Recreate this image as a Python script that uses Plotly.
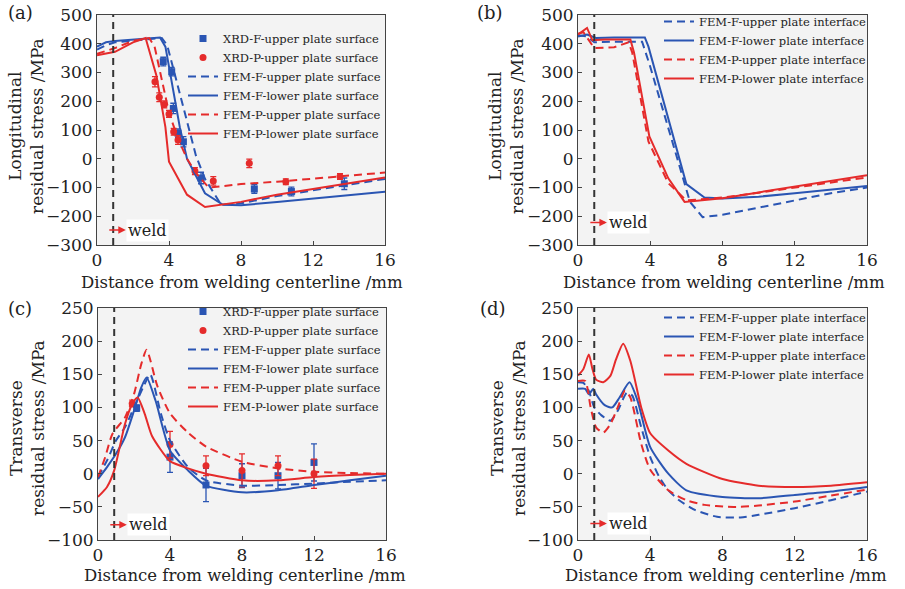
import plotly.graph_objects as go

W, H = 905, 589
BLUE = '#2a55b3'
RED = '#e52b2b'
FONT = 'DejaVu Serif'

# ---------------- Panel (a): longitudinal, surface ----------------
a_xrd_f_x = [3.68, 4.15, 4.24, 4.5, 4.8, 5.78, 8.74, 10.8, 13.74]
a_xrd_f_y = [338, 303, 175, 89, 59, -67, -105, -114, -87]
a_xrd_f_e = [15, 15, 18, 15, 18, 20, 15, 15, 20]
a_xrd_p_x = [3.22, 3.46, 3.74, 4.0, 4.26, 4.5, 5.44, 6.46, 8.46, 10.49, 13.5]
a_xrd_p_y = [268, 214, 189, 156, 94, 65, -43, -77, -16, -80, -62]
a_xrd_p_e = [18, 15, 12, 12, 12, 15, 12, 15, 15, 10, 10]
a_fem_fu_x = [0, 0.5, 1, 2, 3.6, 3.9, 4.5, 5, 5.5, 6, 6.9, 8, 10, 12, 14, 16]
a_fem_fu_y = [380, 395, 405, 410, 420, 395, 250, 130, 10, -70, -160, -155, -130, -110, -90, -70]
a_fem_fl_x = [0, 0.5, 1, 2, 3.5, 3.8, 4.2, 4.6, 5, 5.5, 6, 7, 8, 10, 12, 14, 16]
a_fem_fl_y = [390, 405, 410, 415, 422, 390, 250, 110, 0, -60, -120, -160, -162, -150, -138, -127, -115]
a_fem_pu_x = [0, 1, 2, 2.9, 3.2, 3.5, 4, 4.5, 5, 5.5, 6.2, 7, 8, 10, 12, 14, 16]
a_fem_pu_y = [365, 385, 410, 420, 390, 300, 160, 70, 0, -50, -100, -95, -88, -80, -70, -60, -48]
a_fem_pl_x = [0, 1, 2, 2.7, 3.3, 3.8, 4.0, 5.0, 6.0, 7, 8, 10, 12, 14, 16]
a_fem_pl_y = [360, 372, 405, 420, 290, 110, -10, -125, -168, -160, -150, -125, -105, -85, -65]

# ---------------- Panel (b): longitudinal, interface ----------------
b_fu_x = [0, 0.5, 0.9, 2, 3.55, 4, 5.5, 6.2, 6.9, 8, 10, 12, 14, 16]
b_fu_y = [430, 425, 405, 407, 407, 320, 0, -150, -203, -195, -170, -145, -120, -100]
b_fl_x = [0, 0.5, 1, 2, 3.7, 3.9, 6.0, 7.0, 8, 10, 12, 14, 16]
b_fl_y = [425, 432, 420, 422, 422, 390, -88, -135, -138, -132, -120, -107, -95]
b_pu_x = [0, 0.3, 0.9, 2, 2.8, 3.0, 3.9, 5.0, 6.0, 8, 10, 12, 14, 16]
b_pu_y = [435, 440, 385, 388, 405, 370, 60, -85, -145, -135, -118, -100, -83, -65]
b_pl_x = [0, 0.5, 0.8, 1.5, 2.9, 3.1, 3.95, 5.0, 5.9, 8, 10, 12, 14, 16]
b_pl_y = [432, 455, 412, 415, 415, 370, 78, -68, -150, -137, -117, -97, -77, -57]

# ---------------- Panel (c): transverse, surface ----------------
c_xrd_f_x = [2.15, 4.0, 6.0, 8.0, 10.0, 12.0]
c_xrd_f_y = [99, 25, -17, -3, -3, 17]
c_xrd_f_e = [5, 23, 25, 18, 20, 28]
c_xrd_p_x = [1.9, 4.0, 6.0, 8.0, 10.0, 12.0]
c_xrd_p_y = [106, 44, 12, 5, 12, 0]
c_xrd_p_e = [5, 20, 15, 25, 15, 22]
c_fu_x = [0, 0.5, 1, 1.5, 2, 2.5, 2.9, 3.5, 4, 5, 6, 8, 10, 12, 14, 16]
c_fu_y = [-5, 20, 50, 70, 100, 130, 150, 90, 50, 10, -10, -18, -17, -15, -12, -10]
c_fl_x = [0, 0.5, 1, 1.5, 2, 2.4, 2.7, 3.2, 4, 5, 6, 8, 10, 12, 14, 16]
c_fl_y = [-8, 10, 30, 55, 95, 130, 145, 110, 35, 5, -18, -28, -25, -17, -10, -3]
c_pu_x = [0, 0.4, 0.8, 1.5, 2.0, 2.4, 2.7, 3.3, 4, 5, 6, 8, 10, 12, 14, 16]
c_pu_y = [-5, 25, 60, 85, 120, 165, 187, 132, 91, 62, 41, 18, 8, 3, 1, 0]
c_pl_x = [0, 0.5, 0.9, 1.5, 1.9, 2.2, 2.6, 3.0, 4, 5, 6, 8, 10, 12, 14, 16]
c_pl_y = [-35, -20, 5, 75, 105, 115, 90, 57, 19, 8, 0, -10, -10, -5, -2, 0]

# ---------------- Panel (d): transverse, interface ----------------
d_fu_x = [0, 0.3, 0.6, 0.9, 1.3, 1.8, 2.2, 2.7, 3.0, 3.5, 4, 4.5, 5, 5.6, 6.5, 7.7, 9, 10, 12, 14, 16]
d_fu_y = [138, 137, 125, 100, 88, 80, 95, 122, 118, 70, 25, -5, -25, -40, -55, -65, -66, -62, -52, -40, -27]
d_fl_x = [0, 0.4, 0.6, 0.85, 1.0, 1.5, 1.9, 2.3, 2.85, 3.3, 4, 5, 6, 8, 10, 12, 14, 16]
d_fl_y = [128, 128, 120, 128, 120, 103, 100, 115, 138, 110, 40, 0, -25, -35, -37, -32, -27, -20]
d_pu_x = [0, 0.4, 0.7, 1.0, 1.4, 1.8, 2.2, 2.6, 2.9, 3.5, 4, 5, 6, 7, 8.3, 9, 10, 12, 14, 16]
d_pu_y = [140, 140, 100, 70, 62, 75, 100, 125, 115, 45, 6, -25, -40, -47, -50, -50, -48, -42, -33, -24]
d_pl_x = [0, 0.3, 0.6, 0.8, 1.0, 1.4, 1.8, 2.1, 2.5, 2.9, 3.5, 4, 5, 6, 8, 10, 12, 14, 16]
d_pl_y = [148, 158, 180, 158, 142, 138, 148, 172, 196, 170, 100, 61, 35, 15, -8, -18, -20, -18, -13]

WELD_X = 0.9

def px(x):
    return x / W

def py(y):
    return 1 - y / H

fig = go.Figure()

DASH = '8px,5px'

def line(x, y, color, dash, name, xa, ya, leg, shape='linear'):
    fig.add_trace(go.Scatter(x=x, y=y, mode='lines', name=name,
                             line=dict(color=color, width=2, dash=dash, shape=shape, smoothing=0.6),
                             xaxis=xa, yaxis=ya, legend=leg))

def xrd(x, y, e, color, symbol, name, xa, ya, leg):
    fig.add_trace(go.Scatter(x=x, y=y, mode='markers', name=name,
                             marker=dict(color=color, symbol=symbol, size=7),
                             error_y=dict(type='data', array=e, color=color, thickness=1.3, width=3),
                             xaxis=xa, yaxis=ya, legend=leg))

# (a)
xrd(a_xrd_f_x, a_xrd_f_y, a_xrd_f_e, BLUE, 'square', 'XRD-F-upper plate surface', 'x', 'y', 'legend')
xrd(a_xrd_p_x, a_xrd_p_y, a_xrd_p_e, RED, 'circle', 'XRD-P-upper plate surface', 'x', 'y', 'legend')
line(a_fem_fu_x, a_fem_fu_y, BLUE, DASH, 'FEM-F-upper plate surface', 'x', 'y', 'legend')
line(a_fem_fl_x, a_fem_fl_y, BLUE, 'solid', 'FEM-F-lower plate surface', 'x', 'y', 'legend')
line(a_fem_pu_x, a_fem_pu_y, RED, DASH, 'FEM-P-upper plate surface', 'x', 'y', 'legend')
line(a_fem_pl_x, a_fem_pl_y, RED, 'solid', 'FEM-P-lower plate surface', 'x', 'y', 'legend')
# (b)
line(b_fu_x, b_fu_y, BLUE, DASH, 'FEM-F-upper plate interface', 'x2', 'y2', 'legend2')
line(b_fl_x, b_fl_y, BLUE, 'solid', 'FEM-F-lower plate interface', 'x2', 'y2', 'legend2')
line(b_pu_x, b_pu_y, RED, DASH, 'FEM-P-upper plate interface', 'x2', 'y2', 'legend2')
line(b_pl_x, b_pl_y, RED, 'solid', 'FEM-P-lower plate interface', 'x2', 'y2', 'legend2')
# (c)
xrd(c_xrd_f_x, c_xrd_f_y, c_xrd_f_e, BLUE, 'square', 'XRD-F-upper plate surface', 'x3', 'y3', 'legend3')
xrd(c_xrd_p_x, c_xrd_p_y, c_xrd_p_e, RED, 'circle', 'XRD-P-upper plate surface', 'x3', 'y3', 'legend3')
line(c_fu_x, c_fu_y, BLUE, DASH, 'FEM-F-upper plate surface', 'x3', 'y3', 'legend3', 'spline')
line(c_fl_x, c_fl_y, BLUE, 'solid', 'FEM-F-lower plate surface', 'x3', 'y3', 'legend3', 'spline')
line(c_pu_x, c_pu_y, RED, DASH, 'FEM-P-upper plate surface', 'x3', 'y3', 'legend3', 'spline')
line(c_pl_x, c_pl_y, RED, 'solid', 'FEM-P-lower plate surface', 'x3', 'y3', 'legend3', 'spline')
# (d)
line(d_fu_x, d_fu_y, BLUE, DASH, 'FEM-F-upper plate interface', 'x4', 'y4', 'legend4', 'spline')
line(d_fl_x, d_fl_y, BLUE, 'solid', 'FEM-F-lower plate interface', 'x4', 'y4', 'legend4', 'spline')
line(d_pu_x, d_pu_y, RED, DASH, 'FEM-P-upper plate interface', 'x4', 'y4', 'legend4', 'spline')
line(d_pl_x, d_pl_y, RED, 'solid', 'FEM-P-lower plate interface', 'x4', 'y4', 'legend4', 'spline')

panels = {
    '':  dict(xd=(97, 385), yd=(15, 245), yr=(-300, 500), dt=100),
    '2': dict(xd=(578, 867), yd=(15, 245), yr=(-300, 500), dt=100),
    '3': dict(xd=(98, 386), yd=(308, 540), yr=(-100, 250), dt=50),
    '4': dict(xd=(578, 867), yd=(308, 540), yr=(-100, 250), dt=50),
}

axis_common = dict(showgrid=False, zeroline=False, showline=True, mirror=True,
                   linecolor='#444', linewidth=1, ticks='inside', ticklen=4,
                   tickcolor='#444', ticklabeloverflow='allow',
                   tickfont=dict(family=FONT, size=17, color='#222'))
layout = {}
for k, p in panels.items():
    layout['xaxis' + k] = dict(axis_common, domain=[px(p['xd'][0]), px(p['xd'][1])],
                               range=[0, 16], dtick=4, tick0=0,
                               anchor='y' + k)
    layout['yaxis' + k] = dict(axis_common, domain=[py(p['yd'][1]), py(p['yd'][0])],
                               range=list(p['yr']), dtick=p['dt'], tick0=0,
                               anchor='x' + k)
fig.update_layout(**layout)

def legend_at(left_px, top_px):
    return dict(x=px(left_px), y=py(top_px), xanchor='left', yanchor='top',
                bgcolor='rgba(0,0,0,0)', font=dict(family=FONT, size=11.5, color='#222'),
                tracegroupgap=0, itemwidth=30)

fig.update_layout(
    width=W, height=H, margin=dict(l=0, r=0, t=0, b=0, autoexpand=False),
    paper_bgcolor='white', plot_bgcolor='#f3f3f3', showlegend=True,
    legend=legend_at(183, 24),
    legend2=legend_at(659, 7),
    legend3=legend_at(183, 297),
    legend4=legend_at(659, 303),
)

ann = []
def note(text, x, y, size, angle=0):
    ann.append(dict(text=text, x=px(x), y=py(y), xref='paper', yref='paper', showarrow=False,
                    xanchor='center', yanchor='middle', textangle=angle,
                    font=dict(family=FONT, size=size, color='#222')))

# panel labels
for t, x, y in [('(a)', 20, 13), ('(b)', 490, 13), ('(c)', 20, 308), ('(d)', 493, 308)]:
    note(t, x, y, 18)
# x titles
for x, y in [(242, 282), (724, 282), (245, 575), (726, 575)]:
    note('Distance from welding centerline /mm', x, y, 16.5)
# y titles
for t, x, y in [('Longitudinal<br>residual stress /MPa', 26, 126), ('Longitudinal<br>residual stress /MPa', 506, 126),
                ('Transverse<br>residual stress /MPa', 27, 428), ('Transverse<br>residual stress /MPa', 508, 428)]:
    note(t, x, y, 17, -90)
# weld arrows
for k, yv in [('', -248), ('2', -222), ('3', -77), ('4', -75)]:
    xr = 'x' + k if k else 'x'
    yr = 'y' + k if k else 'y'
    ann.append(dict(x=1.6, y=yv, ax=0.6, ay=yv, xref=xr, yref=yr, axref=xr, ayref=yr, text='',
                    showarrow=True, arrowhead=2, arrowsize=1, arrowwidth=1.5, arrowcolor=RED))
    ann.append(dict(x=1.62, y=yv, xref=xr, yref=yr, text='weld', showarrow=False, xanchor='left',
                    yanchor='middle', bgcolor='white', borderpad=1,
                    font=dict(family=FONT, size=16, color='#222')))
fig.update_layout(annotations=ann)

# weld centre dashed lines
shapes = []
for k in ['', '2', '3', '4']:
    xr = 'x' + k if k else 'x'
    yr = ('y' + k if k else 'y') + ' domain'
    shapes.append(dict(type='line', x0=WELD_X, x1=WELD_X, y0=0, y1=1, xref=xr, yref=yr,
                       line=dict(color='#333', width=2, dash='7px,5px')))
fig.update_layout(shapes=shapes)

# let the figure fill the whole window (no default 8px page margin); no mode bar
fig.write_html('out.html', config={'displayModeBar': False},
               post_script="document.body.style.margin='0px';")
